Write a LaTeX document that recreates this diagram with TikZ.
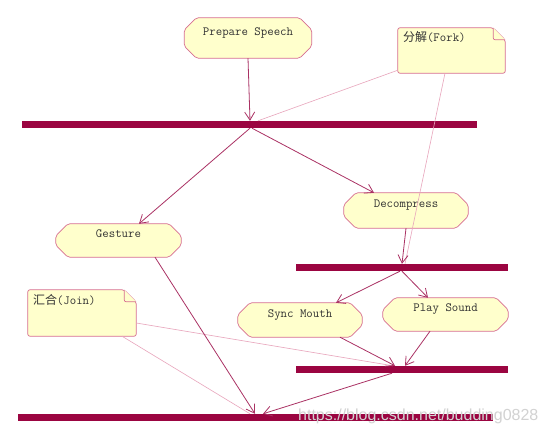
\documentclass[tikz,border=0pt]{standalone}
\usepackage{fontspec}
\newfontfamily\cjk{Noto Sans CJK SC}
\newfontfamily\wmfont{Liberation Sans}
\usetikzlibrary{arrows.meta,calc,backgrounds}
\definecolor{barcol}{RGB}{155,5,65}
\definecolor{flowcol}{RGB}{170,50,100}
\definecolor{notecol}{RGB}{232,165,188}
\definecolor{bordercol}{RGB}{215,110,145}
\definecolor{fillcol}{RGB}{255,255,204}
\definecolor{txtcol}{RGB}{50,50,50}
\newcommand\chamfout[1]{%
  \path[shapeline] ($(#1.north west)+(12,0)$) -- ($(#1.north east)+(-12,0)$)
    -- ($(#1.north east)+(0,12)$) -- ($(#1.south east)+(0,-12)$)
    -- ($(#1.south east)+(-12,0)$) -- ($(#1.south west)+(12,0)$)
    -- ($(#1.south west)+(0,-12)$) -- ($(#1.north west)+(0,12)$) -- cycle;}
\newcommand\noteout[1]{%
  \path[shapeline] (#1.north west) -- ($(#1.north east)+(-12,0)$)
    -- ($(#1.north east)+(0,12)$) -- (#1.south east) -- (#1.south west) -- cycle;
  \draw[shapeline] ($(#1.north east)+(-12,0)$) -- ($(#1.north east)+(-12,12)$)
    -- ($(#1.north east)+(0,12)$);}
\begin{document}
\begin{tikzpicture}[x=1pt,y=-1pt,
  act/.style={rectangle, inner sep=3pt, font=\ttfamily\fontsize{12.5}{14}\selectfont,
    text=txtcol, text height=8pt, text depth=13pt},
  note/.style={rectangle, inner xsep=5pt, inner ysep=3pt,
    font=\ttfamily\fontsize{12.5}{14}\selectfont, text=txtcol, align=left,
    text height=8pt, text depth=25pt},
  bar/.style={rectangle, fill=barcol, inner sep=0pt, minimum height=7pt},
  flow/.style={draw=flowcol, line width=0.8pt, -{Straight Barb[length=8pt,width=10pt]}},
  anchorline/.style={draw=notecol, line width=0.6pt},
  shapeline/.style={draw=bordercol, fill=fillcol, line width=0.7pt, rounded corners=2pt}]
\useasboundingbox (0,0) rectangle (546,435);

% activity nodes
\node[act, minimum width=127pt, minimum height=40pt] (ps) at (248,38) {Prepare Speech};
\node[act, minimum width=125pt, minimum height=33pt] (gesture) at (118.5,240.5) {Gesture};
\node[act, minimum width=124pt, minimum height=35pt] (decomp) at (406,210.5) {Decompress};
\node[act, minimum width=124pt, minimum height=34pt] (sync) at (300,320) {Sync Mouth};
\node[act, minimum width=125pt, minimum height=33pt] (play) at (445.5,314.5) {Play Sound};

% notes
\node[note, text width=97pt, minimum height=45pt] (fork) at (451.5,50.5) {{\cjk\fontsize{12}{14}\selectfont 分解}(Fork)};
\node[note, text width=98pt, minimum height=46pt] (join) at (82,313) {{\cjk\fontsize{12}{14}\selectfont 汇合}(Join)};

% bars
\node[bar, minimum width=455pt] (bar1) at (249.5,124.5) {};
\node[bar, minimum width=212pt] (bar2) at (402,267.5) {};
\node[bar, minimum width=212pt] (bar3) at (402,369.5) {};
\node[bar, minimum width=475pt] (bar4) at (255.5,417.5) {};

\begin{scope}[on background layer]
  \fill[white] (0,0) rectangle (546,435);
  \chamfout{ps}\chamfout{gesture}\chamfout{decomp}\chamfout{sync}\chamfout{play}
  \noteout{fork}\noteout{join}
\end{scope}

% note anchors
\draw[anchorline] ($(fork.south west)+(0,-3)$) -- (bar1.north -| 258,0);
\draw[anchorline] (fork.south -| 445,0) -- (bar2.north -| 405,0);
\draw[anchorline] (join.east |- 0,323) -- (bar3.north -| 393,0);
\draw[anchorline] (join.south -| 122,0) -- (bar4.north -| 250,0);

% flows
\draw[flow] (ps.south) -- (bar1.north -| 250,0);
\draw[flow] (bar1.south -| 250,0) -- (gesture.north -| 139,0);
\draw[flow] (bar1.south -| 252,0) -- (decomp.north -| 374,0);
\draw[flow] (decomp.south -| 406,0) -- (bar2.north -| 402,0);
\draw[flow] (bar2.south -| 400,0) -- (sync.north -| 336,0);
\draw[flow] (bar2.south -| 402,0) -- (play.north -| 428,0);
\draw[flow] (sync.south -| 340,0) -- (bar3.north -| 395,0);
\draw[flow] (play.south -| 430,0) -- (bar3.north -| 405,0);
\draw[flow] (gesture.south -| 155,0) -- (bar4.north -| 255,0);
\draw[flow] (bar3.south -| 392,0) -- (bar4.north -| 263,0);

% watermark
\node[font=\wmfont\fontsize{16}{18}\selectfont, text=gray!35, anchor=base west,
  inner sep=0pt] (wm) at (298,420) {https://blog.csdn.net/budding0828};
\end{tikzpicture}
\end{document}
